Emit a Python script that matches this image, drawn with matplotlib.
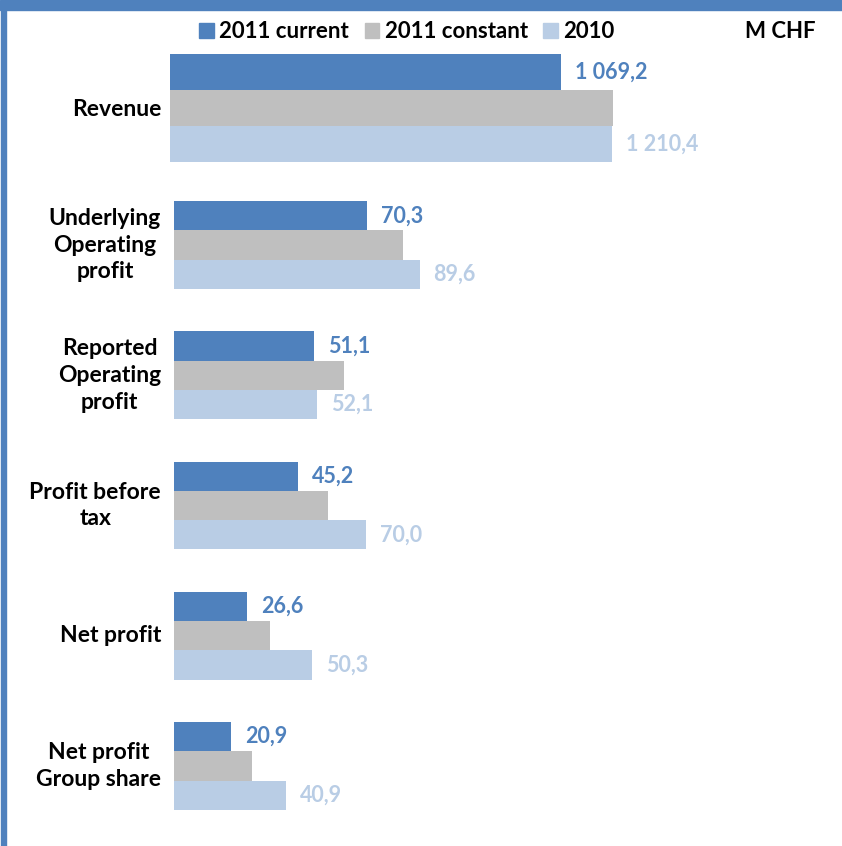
import matplotlib.pyplot as plt
from matplotlib.patches import Patch, Rectangle

# M CHF, key figures 2011 vs 2010
categorias = ["Underlying\nOperating\nprofit", "Reported\nOperating\nprofit",
              "Profit before\ntax", "Net profit", "Net profit\nGroup share"]
actual_2011 = [70.3, 51.1, 45.2, 26.6, 20.9]
constante_2011 = [83.5, 62.0, 56.2, 35.0, 28.4]
valores_2010 = [89.6, 52.1, 70.0, 50.3, 40.9]

# Revenue is on its own scale
ingresos_cat = "Revenue"
ingresos_actual = 1069.2
ingresos_constante = 1213.0
ingresos_2010 = 1210.4

series = ["2011 current", "2011 constant", "2010"]
colores = ["#4F81BD", "#BFBFBF", "#B9CDE5"]

W, H = 842, 846
plt.rcParams['font.family'] = ['Lato', 'DejaVu Sans']
plt.rcParams['font.weight'] = 'bold'

fig = plt.figure(figsize=(W / 100, H / 100), dpi=100)


def rect_px(x0, y0, x1, y1):
    # pixel box (top-left origin) -> figure fraction
    return [x0 / W, 1 - y1 / H, (x1 - x0) / W, (y1 - y0) / H]


def etiquetas(ax, pos, vals, color):
    for p, v in zip(pos, vals):
        txt = f"{v:,.1f}".replace(",", " ").replace(".", ",")
        ax.annotate(txt, (v, p), xytext=(14, 0), textcoords='offset pixels',
                    ha='left', va='center', fontsize=15.5, fontweight='bold',
                    color=color)


# top band and left stripe
fig.patches.append(Rectangle((0, 1 - 10 / H), 1, 10 / H, transform=fig.transFigure,
                             color="#4F81BD", zorder=0))
fig.patches.append(Rectangle((1 / W, 0), 5 / W, 1 - 10 / H, transform=fig.transFigure,
                             color="#4F81BD", zorder=0))

# Revenue
ax1 = fig.add_axes(rect_px(170, 43, W, 173))
h1 = 0.277
ax1.barh([-h1], [ingresos_actual], height=h1, color=colores[0])
ax1.barh([0], [ingresos_constante], height=h1, color=colores[1])
ax1.barh([h1], [ingresos_2010], height=h1, color=colores[2])
etiquetas(ax1, [-h1], [ingresos_actual], colores[0])
etiquetas(ax1, [h1], [ingresos_2010], colores[2])
ax1.set_xlim(0, (W - 170) / 0.3655)
ax1.set_ylim(0.5, -0.5)
ax1.axis('off')

# other figures
ax2 = fig.add_axes(rect_px(174, 179.9, W, 831.1))
y = list(range(len(categorias)))
h = 0.225
ax2.barh([i - h for i in y], actual_2011, height=h, color=colores[0])
ax2.barh(y, constante_2011, height=h, color=colores[1])
ax2.barh([i + h for i in y], valores_2010, height=h, color=colores[2])
etiquetas(ax2, [i - h for i in y], actual_2011, colores[0])
etiquetas(ax2, [i + h for i in y], valores_2010, colores[2])
ax2.set_xlim(0, (W - 174) / 2.74)
ax2.set_ylim(len(categorias) - 0.5, -0.5)
ax2.axis('off')

# category names
fig.text(161 / W, 1 - 110 / H, ingresos_cat, ha='right', va='center',
         fontsize=16.5, fontweight='bold')
for i, c in enumerate(categorias):
    yy = ax2.transData.transform((0, i))[1]
    fig.text(161 / W, yy / H, c, ha='right', va='center', multialignment='center',
             fontsize=16.5, fontweight='bold', linespacing=1.35)

# legend and unit
handles = [Patch(color=c) for c in colores]
fig.legend(handles, series, loc='center', bbox_to_anchor=(407 / W, 1 - 32 / H),
           ncol=3, frameon=False, fontsize=16, handlelength=0.65, handleheight=0.65,
           handletextpad=0.25, columnspacing=0.7, borderaxespad=0)
fig.text(780 / W, 1 - 32 / H, "M CHF", ha='center', va='center',
         fontsize=16, fontweight='bold')

fig.savefig("out.png", dpi=100)
